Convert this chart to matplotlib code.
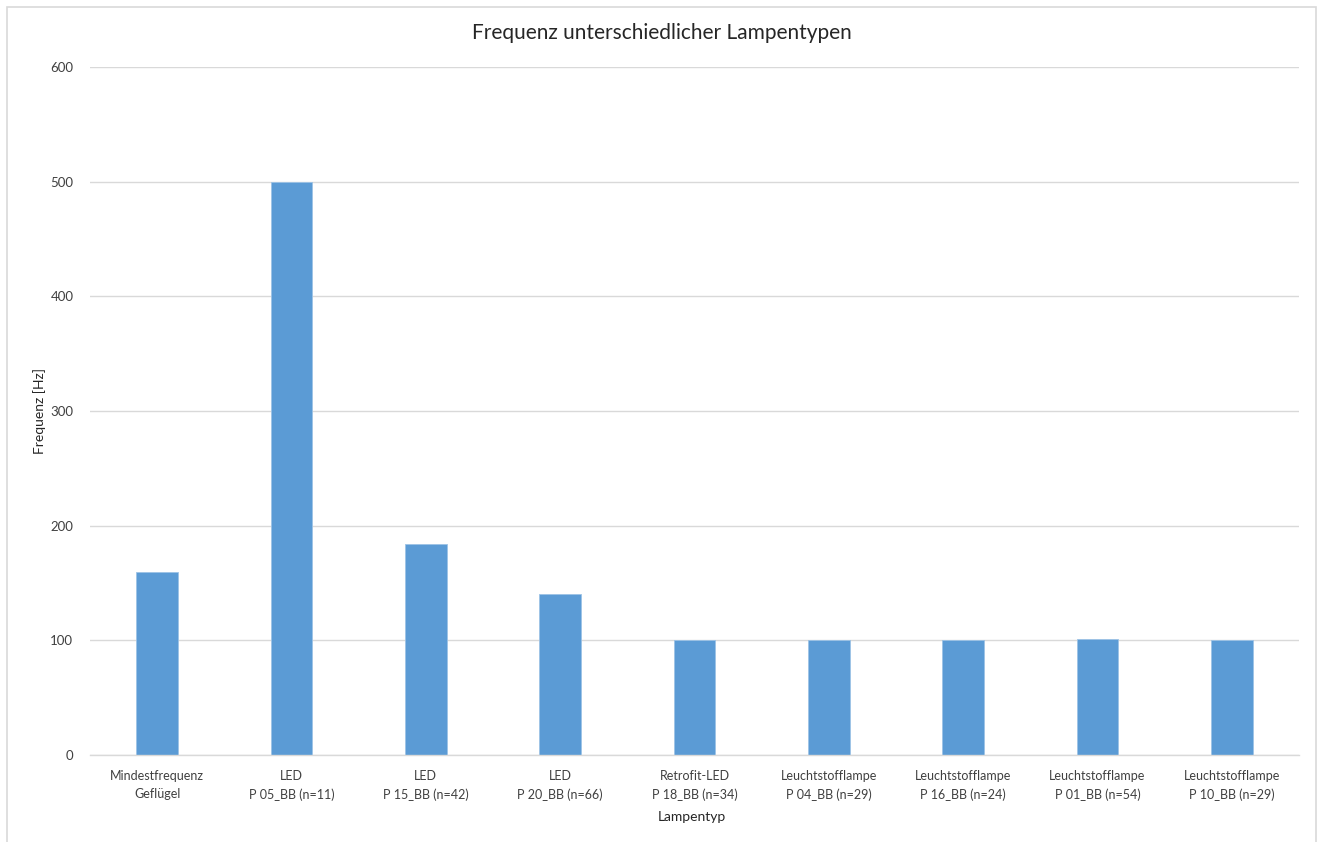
import matplotlib
matplotlib.use("Agg")
import matplotlib.pyplot as plt
from matplotlib.patches import Rectangle

categories = [
    "Mindestfrequenz\nGeflügel",
    "LED\nP 05_BB (n=11)",
    "LED\nP 15_BB (n=42)",
    "LED\nP 20_BB (n=66)",
    "Retrofit-LED\nP 18_BB (n=34)",
    "Leuchtstofflampe\nP 04_BB (n=29)",
    "Leuchtstofflampe\nP 16_BB (n=24)",
    "Leuchtstofflampe\nP 01_BB (n=54)",
    "Leuchtstofflampe\nP 10_BB (n=29)",
]
values = [160, 500, 184, 140, 100, 100, 100, 101, 100]
yticks = [0, 100, 200, 300, 400, 500, 600]

plt.rcParams['font.family'] = ['Lato', 'DejaVu Sans']
W, H = 1320, 842
fig = plt.figure(figsize=(W/100, H/100), dpi=100)
ax = fig.add_axes([90/W, 1-755/H, (1299-90)/W, (755-67)/H])

x = list(range(len(categories)))
ax.bar(x, values, width=0.31, color="#5B9BD5", edgecolor="#9DC3E6", linewidth=0.6, zorder=3)
ax.set_xlim(-0.5, len(categories)-0.5)
ax.set_ylim(0, 600)
ax.set_yticks(yticks)
ax.set_xticks(x)
ax.set_xticklabels(categories, fontsize=9, color="#404040", linespacing=1.6)
ax.tick_params(axis='y', labelsize=9.5, labelcolor="#404040", length=0, pad=12)
ax.tick_params(axis='x', length=0, pad=11)
ax.grid(axis='y', color="#D9D9D9", linewidth=1, zorder=0)
for s in ['top', 'right', 'left']:
    ax.spines[s].set_visible(False)
ax.spines['bottom'].set_color("#D9D9D9")
ax.spines['bottom'].set_linewidth(1)
ax.spines['bottom'].set_zorder(4)

fig.text(40/W, 1-411/H, "Frequenz [Hz]", fontsize=10, color="#262626",
         rotation=90, ha='center', va='center')
fig.text(692/W, 1-817/H, "Lampentyp", fontsize=10, color="#262626",
         ha='center', va='center')
fig.text(662/W, 1-33/H, "Frequenz unterschiedlicher Lampentypen", fontsize=15,
         color="#262626", ha='center', va='center')

fig.patches.append(Rectangle((7/W, -0.05), (1316-7)/W, 1.05-7/H, transform=fig.transFigure,
                             fill=False, edgecolor="#D9D9D9", linewidth=1.2))
fig.savefig("out.png", dpi=100, facecolor="white")
